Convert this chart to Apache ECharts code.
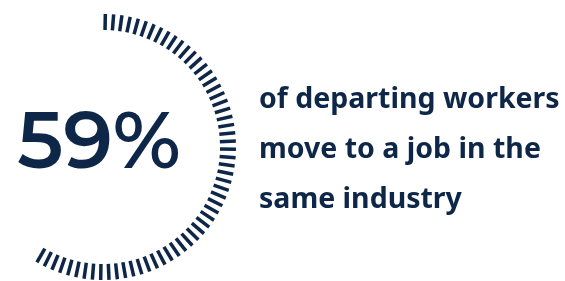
<!DOCTYPE html>
<html><head><meta charset="utf-8">
<script src="https://cdn.jsdelivr.net/npm/echarts@6/dist/echarts.min.js"></script>
<style>html,body{margin:0;padding:0;background:#fff}#c{width:565px;height:281px}</style>
</head><body><div id="c"></div>
<script>
const percentValue = 59;          // share of departing workers
const tickCount = 59;             // one tick per percent
const captionLines = ['of departing workers', 'move to a job in the', 'same industry'];
const navy = '#0e2748';

const chart = echarts.init(document.getElementById('c'));
const span = (tickCount - 1) * 3.6;
chart.setOption({
  animation: false,
  series: [{
    type: 'gauge',
    center: [103, 147],
    radius: 133,
    startAngle: 89,
    endAngle: 89 - span,
    min: 0,
    max: tickCount - 1,
    splitNumber: tickCount - 1,
    axisLine: { show: false, lineStyle: { width: 0 } },
    progress: { show: false },
    pointer: { show: false },
    anchor: { show: false },
    axisTick: { show: false },
    axisLabel: { show: false },
    splitLine: { show: true, distance: 0, length: 16, lineStyle: { color: navy, width: 3.5, cap: 'butt' } },
    title: { show: false },
    detail: {
      show: true,
      offsetCenter: [-4, -2],
      valueAnimation: false,
      formatter: '{value}%',
      color: navy,
      fontFamily: 'Montserrat, "Noto Sans", sans-serif',
      fontWeight: 600,
      fontSize: 79
    },
    data: [{ value: percentValue }]
  }],
  graphic: [{
    type: 'text',
    left: 259,
    top: 75,
    style: {
      text: captionLines.join('\n'),
      fill: navy,
      font: 'bold 28.5px "Noto Sans", sans-serif',
      lineHeight: 50
    }
  }]
});
</script></body></html>
